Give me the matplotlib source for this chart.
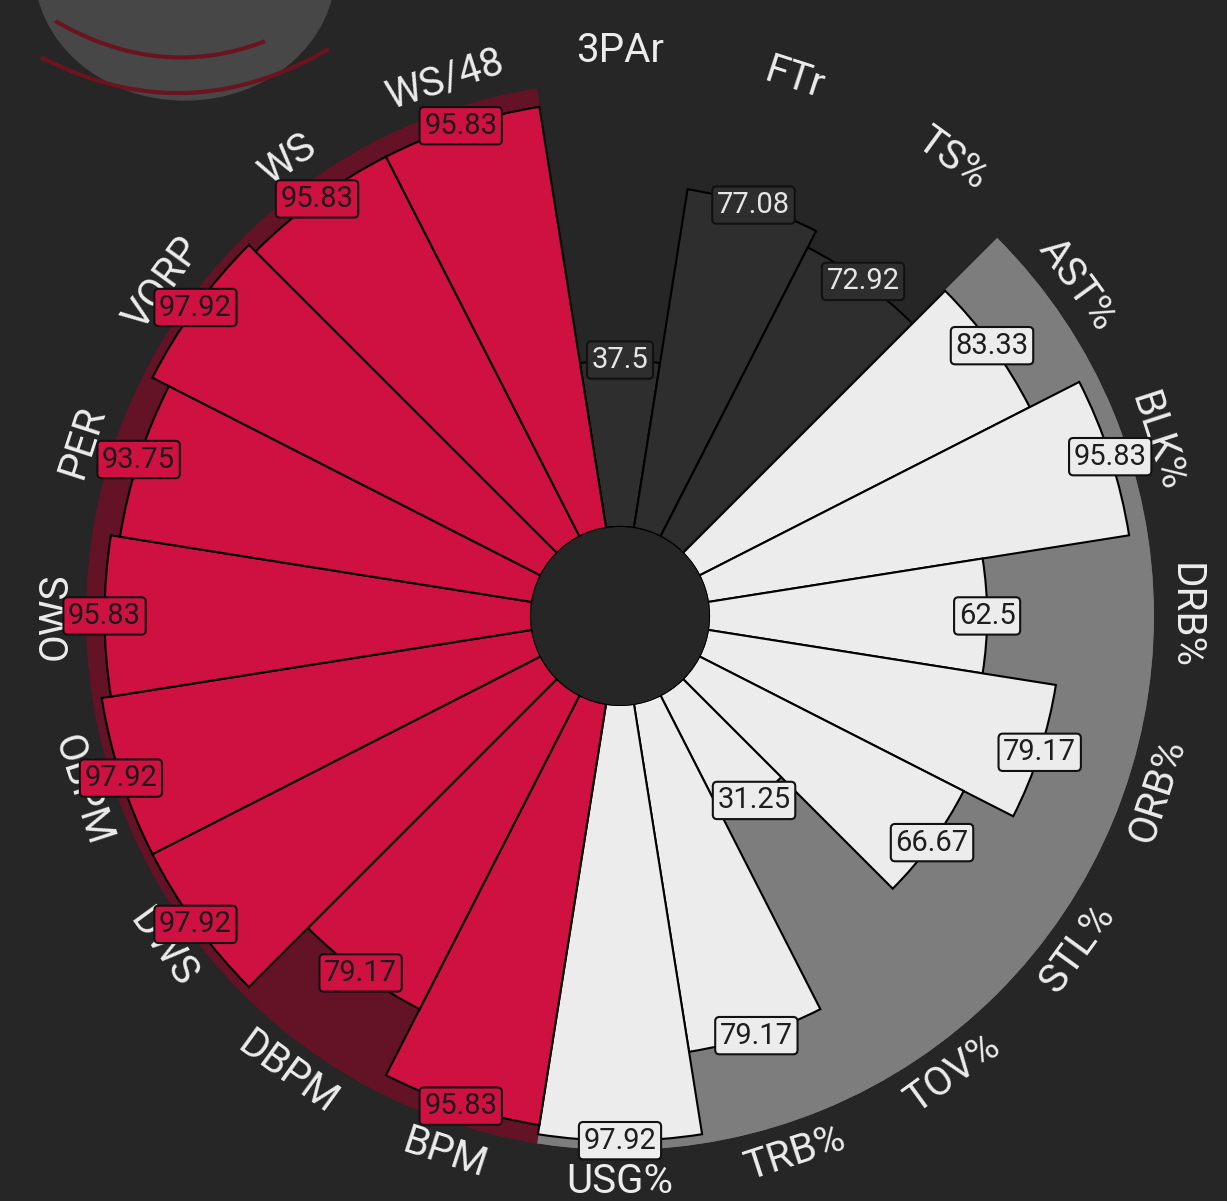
import numpy as np
import matplotlib
matplotlib.use('Agg')
import matplotlib.pyplot as plt
from matplotlib.patches import Circle, Ellipse

plt.rcParams['font.family'] = ['Roboto', 'DejaVu Sans']

params = ['3PAr', 'FTr', 'TS%', 'AST%', 'BLK%', 'DRB%', 'ORB%', 'STL%', 'TOV%', 'TRB%',
          'USG%', 'BPM', 'DBPM', 'DWS', 'OBPM', 'OWS', 'PER', 'VORP', 'WS', 'WS/48']
values = [37.5, 77.08, 72.92, 83.33, 95.83, 62.5, 79.17, 66.67, 31.25, 79.17,
          97.92, 95.83, 79.17, 97.92, 97.92, 95.83, 93.75, 97.92, 95.83, 95.83]
group_sizes = [3, 8, 9]

bg = '#262626'
slice_cols = ['#2e2e2e', '#ececec', '#CE1141']
back_cols = [None, '#7d7d7d', '#641226']
text_cols = ['#e6e6e6', '#1e1e1e', '#1a1a1a']

slice_colors, back_colors, value_colors = [], [], []
for n, s, b, t in zip(group_sizes, slice_cols, back_cols, text_cols):
    slice_colors += [s] * n
    back_colors += [b] * n
    value_colors += [t] * n

fig = plt.figure(figsize=(12.27, 12.01), dpi=100, facecolor=bg)

# faint shape in the top-left corner (part of a logo)
deco = fig.add_axes([0, 0, 1, 1], zorder=0)
deco.set_xlim(0, 1227)
deco.set_ylim(1201, 0)
deco.axis('off')
deco.add_patch(Ellipse((185, -30), 300, 260, color='#474747'))
for px, py in [([57, 167, 263], [22, 57, 42]), ([43, 173, 327], [58, 93, 50])]:
    xs = np.linspace(px[0], px[-1], 80)
    deco.plot(xs, np.polyval(np.polyfit(px, py, 2), xs), color='#6b1420', lw=3)

ax = fig.add_axes([0.0701, 0.0425, 0.8704, 0.8893], projection='polar', zorder=1)
ax.set_rorigin(-20)
ax.set_ylim(0, 100)
ax.patch.set_alpha(0)
ax.axis('off')

n = len(params)
theta_deg = 90 - 360 / n * np.arange(n)
theta = np.deg2rad(theta_deg)
width = 2 * np.pi / n

# background slices
for th, bc in zip(theta, back_colors):
    if bc is not None:
        ax.bar(th, 100, width=width, bottom=0, color=bc, edgecolor=bc, lw=1, zorder=1)

ax.bar(theta, values, width=width, bottom=0, color=slice_colors,
       edgecolor='black', lw=1.5, zorder=2)

# inner hole
ax.add_patch(Circle((0.5, 0.5), 0.5 * 20 / 120, transform=ax.transAxes,
                    facecolor='#303030', edgecolor='black', lw=1.5, zorder=3))

# parameter labels
for p, th, td in zip(params, theta, theta_deg):
    rot = (td - 90 + 180) % 360 - 180
    if rot > 90:
        rot -= 180
    elif rot < -90:
        rot += 180
    ax.text(th, 107, p, rotation=rot, rotation_mode='anchor', ha='center', va='center',
            fontsize=29, color='#ececec', zorder=4)

# value boxes
for v, th, sc, tc in zip(values, theta, slice_colors, value_colors):
    ax.text(th, v, f'{v:g}', ha='center', va='center', fontsize=21, color=tc, zorder=5,
            bbox=dict(boxstyle='round,pad=0.16,rounding_size=0.15', facecolor=sc,
                      edgecolor='#111111', lw=1.5))

plt.savefig('out.png', dpi=100, facecolor=bg)
